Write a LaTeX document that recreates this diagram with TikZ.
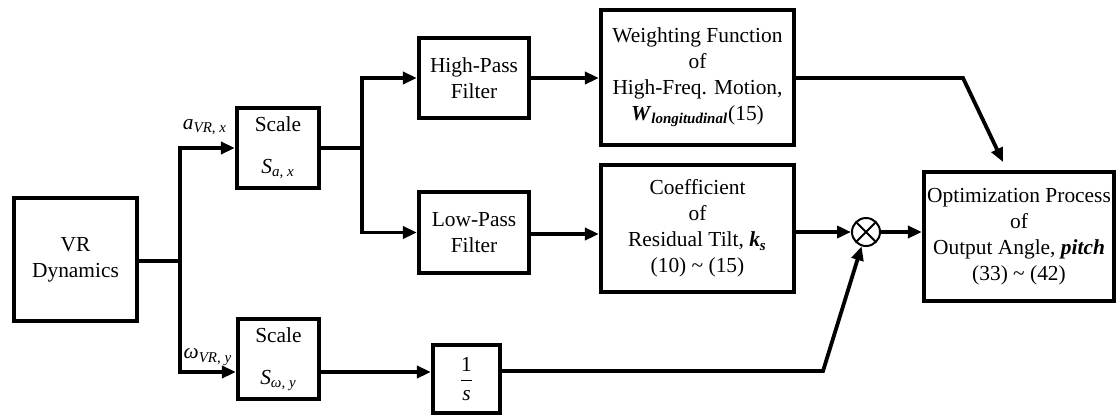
\documentclass[tikz,border=0pt]{standalone}
\usepackage{fontspec}
\setmainfont{Liberation Serif}
\usetikzlibrary{arrows.meta}
\tikzset{
  blk/.style={draw, line width=2.1pt, rectangle, inner sep=0pt, align=center,
    font=\fontsize{10.7}{13}\selectfont},
  conn/.style={line width=1.9pt},
  arr/.style={line width=1.9pt, -{Triangle[length=7pt,width=6pt]}},
  lbl/.style={inner sep=0pt, font=\fontsize{10.7}{12}\selectfont},
  mult/.style={draw, circle, line width=1pt, minimum size=14pt, inner sep=0pt,
    path picture={
      \draw[line width=1pt] (path picture bounding box.north west) -- (path picture bounding box.south east);
      \draw[line width=1pt] (path picture bounding box.north east) -- (path picture bounding box.south west);
    }},
}
\newcommand{\bi}[1]{\textbf{\textit{#1}}}
\begin{document}
\begin{tikzpicture}[x=0.5pt,y=-0.5pt]
\useasboundingbox (0,0) rectangle (1117,418);
% blocks
\node[blk, minimum width=61.5pt, minimum height=61.5pt] (vr) at (75.5,259.5) {VR\\Dynamics};
\node[blk, minimum width=41pt, minimum height=40pt] (sc1) at (278,148) {Scale\\[8pt]\textit{S}\textsubscript{\textit{a}, \textit{x}}};
\node[blk, minimum width=40.5pt, minimum height=40pt] (sc2) at (278.5,359) {Scale\\[8pt]\textit{S}\textsubscript{\textit{ω}, \textit{y}}};
\node[blk, minimum width=55pt, minimum height=40pt] (hpf) at (474,78) {High-Pass\\Filter};
\node[blk, minimum width=55pt, minimum height=40.5pt] (lpf) at (474,232.5) {Low-Pass\\Filter};
\node[blk, minimum width=96.5pt, minimum height=67.5pt] (wf) at (697.5,77.5) {Weighting Function\\of\\High-Freq. Motion,\\\bi{W}\textsubscript{\bi{longitudinal}}(15)};
\node[blk, minimum width=96.5pt, minimum height=63.5pt] (co) at (697.5,228.5) {Coefficient\\of\\Residual Tilt, \bi{k}\textsubscript{\bi{s}}\\(10) \textasciitilde{} (15)};
\node[blk, minimum width=95pt, minimum height=64.5pt] (opt) at (1019,236.5) {Optimization Process\\of\\Output Angle, \bi{pitch}\\(33) \textasciitilde{} (42)};
\node[blk, minimum width=33.5pt, minimum height=34pt] (int) at (466.5,379) {$\displaystyle\frac{\hbox{1}}{\hbox{\itshape s}}$};
\node[mult] (mul) at (866,232) {};
% labels
\node[lbl] (la) at (205,127) {\textit{a}\textsubscript{\textit{VR}, \textit{x}}};
\node[lbl] (lw) at (208,357) {\textit{ω}\textsubscript{\textit{VR}, \textit{y}}};
% coordinates
\coordinate (s1) at (180,261);
\coordinate (s2) at (362,148);
\coordinate (b1) at (963,78);
\coordinate (t1) at (1003,162);
\coordinate (b2) at (823,371);
% connectors
\draw[conn] (vr.east |- s1) -- (s1);
\draw[arr] (s1) |- (sc1.west);
\draw[arr] (s1) |- ([yshift=-6.5pt]sc2.west);
\draw[conn] (sc1.east) -- (s2);
\draw[arr] (s2) |- (hpf.west);
\draw[arr] (s2) |- (lpf.west);
\draw[arr] (hpf.east) -- (hpf.east -| wf.west);
\draw[arr] ([yshift=-0.75pt]lpf.east) -- ([yshift=-0.75pt]lpf.east -| co.west);
\draw[arr] (mul.west -| co.east) -- (mul.west);
\draw[arr] (mul.east) -- (mul.east -| opt.west);
\draw[arr] (wf.east |- b1) -- (b1) -- (t1);
\draw[arr] ([yshift=-6.5pt]sc2.east) -- ([yshift=-6.5pt]sc2.east -| int.west);
\draw[arr] (int.east |- b2) -- (b2) -- (mul);
\end{tikzpicture}
\end{document}
